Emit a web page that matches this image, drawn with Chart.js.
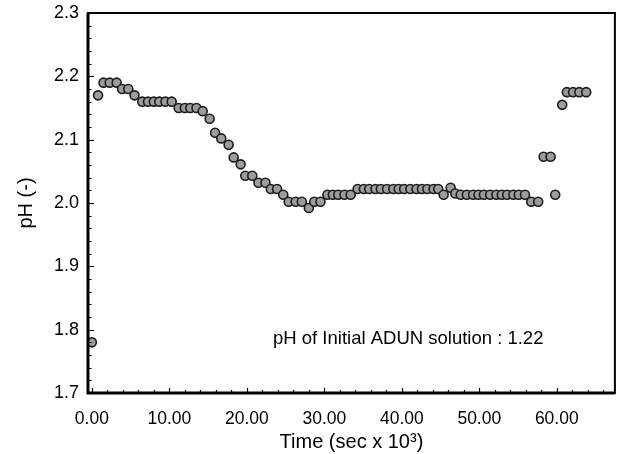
<!DOCTYPE html>
<html>
<head>
<meta charset="utf-8">
<script src="https://cdn.jsdelivr.net/npm/chart.js@4.4.0/dist/chart.umd.min.js"></script>
<style>
  html, body { margin: 0; padding: 0; background: #fff; }
</style>
</head>
<body>
<canvas id="phChart" width="621" height="454"></canvas>
<script>
// readings taken off the plot (time in sec x 10^3)
var timeValues = [0, 0.8, 1.5, 2.3, 3.2, 3.9, 4.7, 5.5, 6.5, 7.25, 8.0, 8.7, 9.5, 10.3,
    11.2, 12.0, 12.7, 13.5, 14.3, 15.2, 15.9, 16.7, 17.65, 18.3, 19.2, 19.8, 20.7,
    21.5, 22.4, 23.1, 23.9, 24.7, 25.4, 26.3, 27.1, 28.0, 28.7, 29.5,
    30.4, 31.1, 31.8, 32.6, 33.4,
    34.3, 35.1, 35.8, 36.6, 37.3, 38.1, 38.9, 39.6, 40.3, 41.1, 41.9, 42.6, 43.3, 44.1, 44.7,
    45.4, 46.3,
    46.9, 47.6, 48.4, 49.2, 49.9, 50.6, 51.4, 52.2, 52.9, 53.6, 54.4, 55.1, 55.9,
    56.7, 57.6, 58.3, 59.2, 59.8, 60.7, 61.3, 62.1, 62.9, 63.8];
var phValues = [1.78, 2.17, 2.19, 2.19, 2.19, 2.18, 2.18, 2.17, 2.16, 2.16, 2.16, 2.16, 2.16, 2.16,
    2.15, 2.15, 2.15, 2.15, 2.145, 2.133, 2.111, 2.102, 2.092, 2.072, 2.061, 2.043, 2.043,
    2.032, 2.032, 2.022, 2.022, 2.013, 2.002, 2.002, 2.002, 1.992, 2.002, 2.002,
    2.013, 2.013, 2.013, 2.013, 2.013,
    2.022, 2.022, 2.022, 2.022, 2.022, 2.022, 2.022, 2.022, 2.022, 2.022, 2.022, 2.022, 2.022, 2.022, 2.022,
    2.013, 2.024,
    2.015, 2.013, 2.013, 2.013, 2.013, 2.013, 2.013, 2.013, 2.013, 2.013, 2.013, 2.013, 2.013,
    2.002, 2.002, 2.073, 2.073, 2.013, 2.155, 2.175, 2.175, 2.175, 2.175];
var xTickValues = [0, 10, 20, 30, 40, 50, 60];
var yTickValues = [1.7, 1.8, 1.9, 2.0, 2.1, 2.2, 2.3];
var noteText = "pH of Initial ADUN solution : 1.22";
var font = "'Liberation Sans', Arial, sans-serif";

var points = timeValues.map(function(t, i) { return { x: t, y: phValues[i] }; });

// inward tick marks, plot frame and the note inside the plot
var framePlugin = {
    id: "frame",
    afterDraw: function(chart) {
        var ctx = chart.ctx;
        var area = chart.chartArea;
        var xs = chart.scales.x;
        var ys = chart.scales.y;
        ctx.save();
        ctx.strokeStyle = "#000";
        ctx.lineWidth = 1.2;
        ctx.beginPath();
        for (var v = 1.7; v <= 2.3001; v += 0.02) {
            var py = Math.round(ys.getPixelForValue(v)) + 0.5;
            var major = Math.abs(v * 10 - Math.round(v * 10)) < 0.01;
            ctx.moveTo(area.left, py);
            ctx.lineTo(area.left + (major ? 6 : 3.5), py);
        }
        for (var t = 0; t <= 66; t += 2) {
            var px = Math.round(xs.getPixelForValue(t)) + 0.5;
            var big = t % 10 === 0;
            ctx.moveTo(px, area.bottom);
            ctx.lineTo(px, area.bottom - (big ? 5 : 3));
        }
        ctx.stroke();

        ctx.lineWidth = 2;
        ctx.strokeRect(area.left, area.top, area.right - area.left, area.bottom - area.top);
        ctx.lineWidth = 3;
        ctx.beginPath();
        ctx.moveTo(area.left, area.top);
        ctx.lineTo(area.left, area.bottom);
        ctx.lineTo(area.right, area.bottom);
        ctx.stroke();

        ctx.fillStyle = "#000";
        ctx.font = "18.5px " + font;
        ctx.textBaseline = "middle";
        ctx.textAlign = "left";
        ctx.fillText(noteText, 273, 339);
        ctx.restore();
    }
};

var chart = new Chart("phChart", {
    type: "scatter",
    data: {
        datasets: [{
            data: points,
            pointRadius: 4.5,
            pointBackgroundColor: "#9c9c9c",
            pointBorderColor: "#1c1c1c",
            pointBorderWidth: 1.6
        }]
    },
    plugins: [framePlugin],
    options: {
        responsive: false,
        animation: false,
        layout: { padding: { top: 13, right: 6, left: 0, bottom: 0 } },
        plugins: {
            legend: { display: false },
            tooltip: { enabled: false }
        },
        scales: {
            x: {
                type: "linear",
                min: -0.5,
                max: 67.5,
                afterBuildTicks: function(scale) {
                    scale.ticks = xTickValues.map(function(v) { return { value: v }; });
                },
                afterFit: function(scale) { scale.height = 61; },
                grid: { display: false },
                border: { display: false },
                ticks: {
                    padding: 8,
                    color: "#000",
                    font: { family: font, size: 17.5 },
                    callback: function(v) { return v.toFixed(2); }
                },
                title: {
                    display: true,
                    text: "Time (sec x 10\u00B3)",
                    color: "#000",
                    font: { family: font, size: 20 },
                    padding: { top: 0, bottom: 0 }
                }
            },
            y: {
                min: 1.7,
                max: 2.3,
                afterBuildTicks: function(scale) {
                    scale.ticks = yTickValues.map(function(v) { return { value: v }; });
                },
                afterFit: function(scale) { scale.width = 88; },
                grid: { display: false },
                border: { display: false },
                ticks: {
                    padding: 1,
                    color: "#000",
                    font: { family: font, size: 18 },
                    callback: function(v) { return v.toFixed(1); }
                },
                title: {
                    display: true,
                    text: "pH (-)",
                    color: "#000",
                    font: { family: font, size: 20 },
                    padding: { top: 14, bottom: 0 }
                }
            }
        }
    }
});
</script>
</body>
</html>
